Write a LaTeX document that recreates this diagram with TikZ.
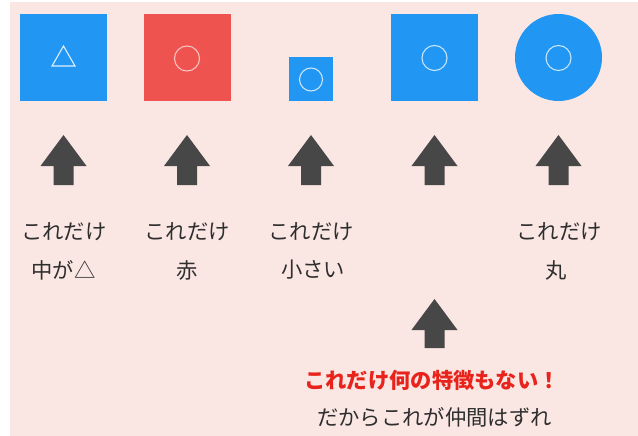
\documentclass[tikz,border=0pt]{standalone}
\usepackage{fontspec}
\newfontfamily\jp{Noto Sans CJK JP}
\usetikzlibrary{calc}
\definecolor{paper}{HTML}{FAE7E3}
\definecolor{tileblue}{HTML}{2196F3}
\definecolor{tilered}{HTML}{EF5350}
\definecolor{arrowgray}{HTML}{474747}
\definecolor{inkgray}{HTML}{2E2E2E}
\definecolor{alertred}{HTML}{E8231B}
\tikzset{
  tile/.style={fill=tileblue, inner sep=0pt, minimum size=#1},
  ring/.style={circle, draw=#1, line width=1.1pt, inner sep=0pt, minimum size=25},
  caption/.style={text=inkgray, inner sep=0pt, font=\jp\fontsize{21.3}{25}\selectfont},
  uparrow/.pic={\fill[arrowgray] (0,0) -- (23,31) -- (10,31) -- (10,#1) -- (-10,#1) -- (-10,31) -- (-23,31) -- cycle;}
}
\begin{document}
\begin{tikzpicture}[x=1pt,y=-1pt]
  \useasboundingbox (0,0) rectangle (638,436);
  \fill[white] (0,0) rectangle (638,436);
  \fill[paper] (10,2) rectangle (638,436);
  \node[tile=87] (sq1) at (63.5,57.5) {};
  \node[tile=87, fill=tilered] (sq2) at (187,57.5) {};
  \node[tile=44] (sq3) at (311,79.5) {};
  \node[tile=87] (sq4) at (434.5,57.5) {};
  \node[tile=87, circle] (disc) at (558.5,57.5) {};
  \draw[white!85!tileblue, line width=1.1pt, line join=miter] ($(sq1)+(0,-11.5)$) -- ($(sq1)+(11.5,8.5)$) -- ($(sq1)+(-11.5,8.5)$) -- cycle;
  \node[ring=tilered!35!white] (o2) at ($(sq2)+(0,1)$) {};
  \node[ring=white!75!tileblue, minimum size=23] (o3) at (sq3) {};
  \node[ring=white!75!tileblue] (o4) at ($(sq4)+(0,0.5)$) {};
  \node[ring=white!75!tileblue] (o5) at ($(disc)+(0,0.5)$) {};
  \foreach \x in {63.5,187,311,434.5,558.5}
    \pic at (\x,135) {uparrow=50};
  \pic at (434.5,299) {uparrow=49};
  \node[caption] (only1) at (64,232) {これだけ};
  \node[caption] (only2) at (187,232) {これだけ};
  \node[caption] (only3) at (311,232) {これだけ};
  \node[caption] (only5) at (559,232) {これだけ};
  \node[caption] (why1) at (63.5,270) {中が△};
  \node[caption] (why2) at (187,270) {赤};
  \node[caption] (why3) at (313,270) {小さい};
  \node[caption] (why5) at (556,270) {丸};
  \node[caption, text=alertred, font=\jp\bfseries\fontsize{21.3}{25}\selectfont] (plain) at (432,380) {これだけ何の特徴もない！};
  \node[caption] (odd) at (434.5,417) {だからこれが仲間はずれ};
\end{tikzpicture}
\end{document}
